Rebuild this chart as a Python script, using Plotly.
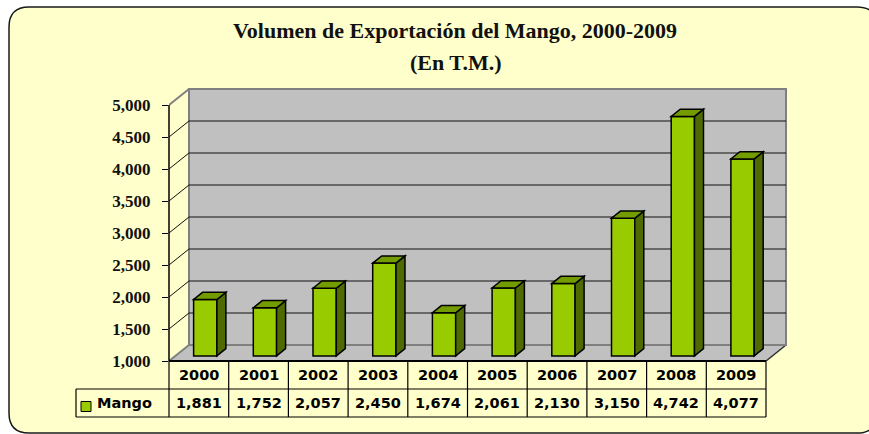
import plotly.graph_objects as go

# ---- data -------------------------------------------------------------
years = ["2000", "2001", "2002", "2003", "2004", "2005", "2006", "2007", "2008", "2009"]
volumes = [1881, 1752, 2057, 2450, 1674, 2061, 2130, 3150, 4742, 4077]
y_ticks = [1000, 1500, 2000, 2500, 3000, 3500, 4000, 4500, 5000]
series_name = "Mango"
title_line1 = "Volumen de Exportación del Mango, 2000-2009"
title_line2 = "(En T.M.)"

# ---- page geometry (pixels) -------------------------------------------
W, H = 869, 434
M_L, M_R, M_T, M_B = 169, 79, 85, 73
PX_PER_CAT = 59.7          # horizontal pixels per category
PX_PER_VAL = 0.064         # vertical pixels per tonne
Y_MIN, Y_MAX = 1000, 5000
N = len(years)

plot_w = W - M_L - M_R
plot_h = H - M_T - M_B
X0 = -0.5
X1 = X0 + plot_w / PX_PER_CAT
Y1 = Y_MIN + plot_h / PX_PER_VAL

# 3-D depth of the box (in axis units) and of the bars inside it
DX = 20 / PX_PER_CAT
DY = 16 / PX_PER_VAL
F_FRONT, F_BACK = 0.32, 0.77
BAR_W = 0.39

FRONT = "#99CC00"
SIDE = "#4F6A00"
TOP = "#739C00"
WALL = "#C0C0C0"
WALL_EDGE = "#808080"
PAGE = "#FFFFCC"


def xp(px):
    return (px - M_L) / plot_w


def yp(py):
    return (H - M_B - py) / plot_h


def xd2p(x):
    return (x - X0) / (X1 - X0)


shapes = []

# rounded frame around the chart
bx0, by0, bx1, by1, r = 9, 7, 877, 433, 20
frame = (
    f"M {xp(bx0 + r)},{yp(by0)} L {xp(bx1 - r)},{yp(by0)} "
    f"Q {xp(bx1)},{yp(by0)} {xp(bx1)},{yp(by0 + r)} "
    f"L {xp(bx1)},{yp(by1 - r)} Q {xp(bx1)},{yp(by1)} {xp(bx1 - r)},{yp(by1)} "
    f"L {xp(bx0 + r)},{yp(by1)} Q {xp(bx0)},{yp(by1)} {xp(bx0)},{yp(by1 - r)} "
    f"L {xp(bx0)},{yp(by0 + r)} Q {xp(bx0)},{yp(by0)} {xp(bx0 + r)},{yp(by0)} Z"
)
shapes.append(dict(type="path", xref="paper", yref="paper", path=frame,
                   fillcolor=PAGE, line=dict(color="#1a1a1a", width=1.5), layer="below"))

xl_back = X0 + DX
xr_back = N - 0.5 + DX
xr_front = N - 0.5

# floor
shapes.append(dict(type="path", xref="x", yref="y", layer="below",
                   path=f"M {X0},{Y_MIN} L {xr_front},{Y_MIN} L {xr_back},{Y_MIN + DY} "
                        f"L {xl_back},{Y_MIN + DY} Z",
                   fillcolor=WALL, line=dict(width=0)))
shapes.append(dict(type="line", xref="x", yref="y", layer="below",
                   x0=xr_front, y0=Y_MIN, x1=xr_back, y1=Y_MIN + DY,
                   line=dict(color="#303030", width=1.5)))

# back wall
shapes.append(dict(type="rect", xref="x", yref="y", layer="below",
                   x0=xl_back, y0=Y_MIN + DY, x1=xr_back, y1=Y_MAX + DY,
                   fillcolor=WALL, line=dict(color=WALL_EDGE, width=2)))

# gridlines: diagonal on the open side wall, horizontal on the back wall
for v in y_ticks:
    edge = v in (Y_MIN, Y_MAX)
    shapes.append(dict(type="line", xref="x", yref="y", layer="below",
                       x0=X0, y0=v, x1=xl_back, y1=v + DY,
                       line=dict(color=WALL_EDGE if edge else "#111111",
                                 width=2 if edge else 1)))
    if not edge:
        shapes.append(dict(type="line", xref="x", yref="y", layer="below",
                           x0=xl_back, y0=v + DY, x1=xr_back, y1=v + DY,
                           line=dict(color="#111111", width=1)))

# front value axis line
shapes.append(dict(type="line", xref="paper", yref="y", x0=0, x1=0,
                   y0=Y_MIN, y1=Y_MAX, line=dict(color="#000000", width=1.5)))

# bar side and top faces
bar_x = [i + F_FRONT * DX for i in range(N)]
bar_base = Y_MIN + F_FRONT * DY
ddx = (F_BACK - F_FRONT) * DX
ddy = (F_BACK - F_FRONT) * DY
for cx, v in zip(bar_x, volumes):
    xl, xr = cx - BAR_W / 2, cx + BAR_W / 2
    top = v + F_FRONT * DY
    shapes.append(dict(type="path", xref="x", yref="y", layer="above",
                       path=f"M {xr},{bar_base} L {xr},{top} L {xr + ddx},{top + ddy} "
                            f"L {xr + ddx},{bar_base + ddy} Z",
                       fillcolor=SIDE, line=dict(color="#000000", width=1.5)))
    shapes.append(dict(type="path", xref="x", yref="y", layer="above",
                       path=f"M {xl},{top} L {xr},{top} L {xr + ddx},{top + ddy} "
                            f"L {xl + ddx},{top + ddy} Z",
                       fillcolor=TOP, line=dict(color="#000000", width=1.5)))

# data table under the chart
row_top, row_mid, row_bot = 361, 389, 417
legend_left = 76
tbl_left = xd2p(X0)
tbl_right = xd2p(N - 0.5)
shapes.append(dict(type="line", xref="paper", yref="paper",
                   x0=tbl_left, x1=tbl_right, y0=yp(row_top), y1=yp(row_top),
                   line=dict(color="#000000", width=2)))
for py in (row_mid, row_bot):
    shapes.append(dict(type="line", xref="paper", yref="paper",
                       x0=xp(legend_left), x1=tbl_right, y0=yp(py), y1=yp(py),
                       line=dict(color="#000000", width=1.2)))
for k in range(N + 1):
    xx = xd2p(k - 0.5)
    shapes.append(dict(type="line", xref="paper", yref="paper",
                       x0=xx, x1=xx, y0=yp(row_top), y1=yp(row_bot),
                       line=dict(color="#000000", width=1.2)))
shapes.append(dict(type="line", xref="paper", yref="paper",
                   x0=xp(legend_left), x1=xp(legend_left), y0=yp(row_mid), y1=yp(row_bot),
                   line=dict(color="#000000", width=1.2)))
# legend key
shapes.append(dict(type="rect", xref="paper", yref="paper",
                   x0=xp(81), x1=xp(91), y0=yp(411.5), y1=yp(401.5),
                   fillcolor=FRONT, line=dict(color="#000000", width=1)))

table_font = dict(family="DejaVu Sans", size=14.5, color="#000000", weight="bold")
annotations = []
for i, (yr, v) in enumerate(zip(years, volumes)):
    annotations.append(dict(x=i, y=yp((row_top + row_mid) / 2), xref="x", yref="paper",
                            text=yr, showarrow=False, font=table_font,
                            xanchor="center", yanchor="middle"))
    annotations.append(dict(x=i, y=yp((row_mid + row_bot) / 2), xref="x", yref="paper",
                            text=f"{v:,}", showarrow=False, font=table_font,
                            xanchor="center", yanchor="middle"))
annotations.append(dict(x=xp(95), y=yp((row_mid + row_bot) / 2), xref="paper", yref="paper",
                        text=series_name, showarrow=False, font=table_font,
                        xanchor="left", yanchor="middle"))

title_font = dict(family="Liberation Serif", size=22, color="#111111", weight="bold")
annotations.append(dict(x=xp(455), y=yp(30), xref="paper", yref="paper", text=title_line1,
                        showarrow=False, font=title_font, xanchor="center", yanchor="middle"))
annotations.append(dict(x=xp(455), y=yp(62), xref="paper", yref="paper", text=title_line2,
                        showarrow=False, font=title_font, xanchor="center", yanchor="middle"))

fig = go.Figure(go.Bar(
    x=bar_x,
    y=[v - bar_base + F_FRONT * DY for v in volumes],
    base=bar_base,
    width=BAR_W,
    name=series_name,
    marker=dict(color=FRONT, line=dict(color="#000000", width=1.5)),
    showlegend=False,
    hoverinfo="skip",
))

fig.update_layout(
    width=W, height=H,
    margin=dict(l=M_L, r=M_R, t=M_T, b=M_B, pad=0),
    paper_bgcolor="#FFFFFF",
    plot_bgcolor="rgba(0,0,0,0)",
    shapes=shapes,
    annotations=annotations,
    showlegend=False,
    xaxis=dict(range=[X0, X1], visible=False, fixedrange=True),
    yaxis=dict(range=[Y_MIN, Y1], tickvals=y_ticks, tickformat=",d",
               showgrid=False, zeroline=False, showline=False,
               ticks="outside", ticklen=6, tickwidth=1.2, tickcolor="#000000",
               ticklabelstandoff=8,
               tickfont=dict(family="Liberation Serif", size=17, color="#111111", weight="bold"),
               fixedrange=True),
)

fig.write_html("out.html")
